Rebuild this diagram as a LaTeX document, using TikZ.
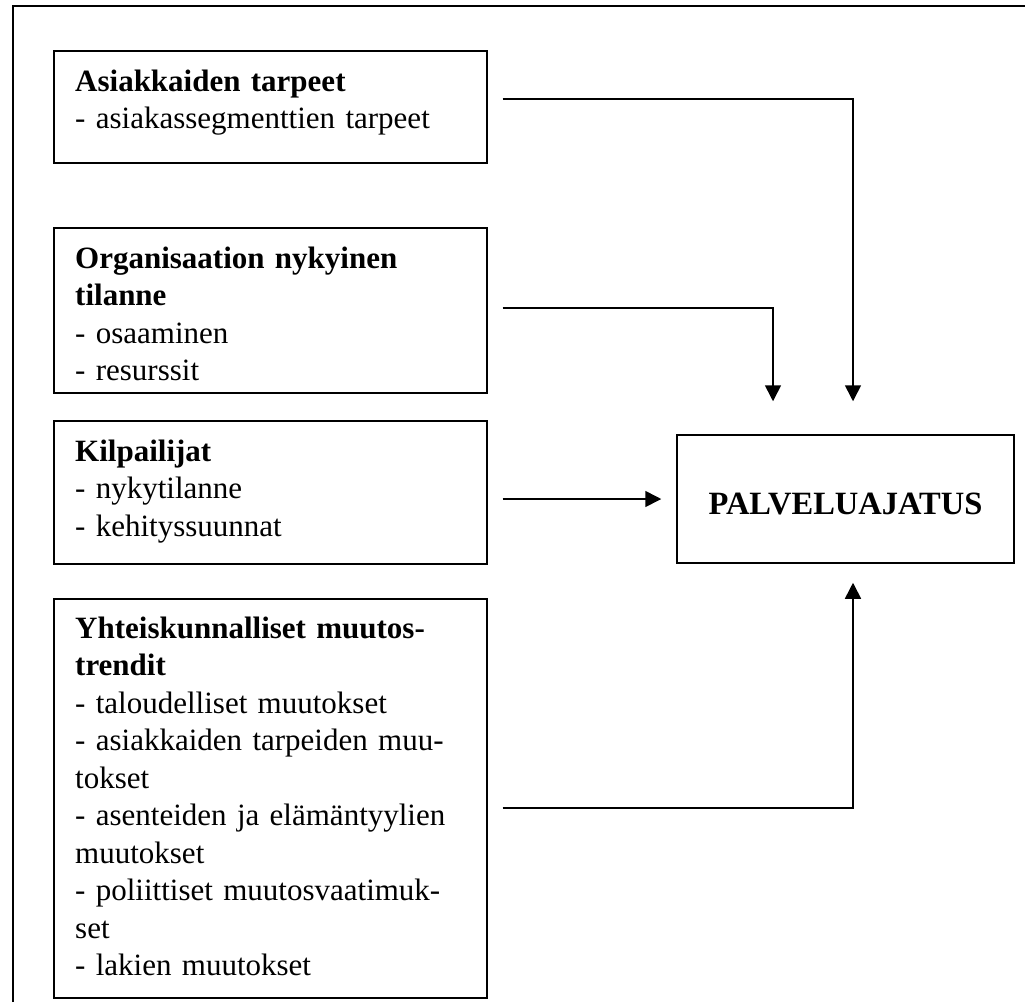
\documentclass[tikz,border=0pt]{standalone}
\usepackage{fontspec}
\setmainfont{Liberation Serif}
\usetikzlibrary{arrows.meta}

\begin{document}
\begin{tikzpicture}[x=1pt, y=-1pt,
    box/.style={draw, line width=1.5pt, inner sep=0pt},
    txt/.style={anchor=base west, inner sep=0pt, text width=400pt, align=left,
                font=\fontsize{31}{37.5}\selectfont},
    link/.style={-{Triangle[length=16pt, width=16pt]}, line width=1.6pt},
    frame/.style={line width=2pt},
  ]
  \useasboundingbox (0,0) rectangle (1025,1002);

  \def\boxw{433}  % width of the left boxes
  \def\padx{22}   % text inset from left edge
  \def\pady{41}   % top edge to first baseline

  % Outer frame (cut off at right and bottom)
  \draw[frame] (13,1002) -- (13,6) -- (1025,6);

  % --- Asiakkaiden tarpeet ---
  \node[box, anchor=north west, minimum width=\boxw, minimum height=112] (needs) at (53,50) {};
  \node[txt] (needstxt) at ([xshift=\padx pt, yshift=-\pady pt]needs.north west)
    {\textbf{Asiakkaiden tarpeet}\\
     - asiakassegmenttien tarpeet};

  % --- Organisaation nykyinen tilanne ---
  \node[box, anchor=north west, minimum width=\boxw, minimum height=165] (org) at (53,227) {};
  \node[txt] (orgtxt) at ([xshift=\padx pt, yshift=-\pady pt]org.north west)
    {\textbf{Organisaation nykyinen}\\
     \textbf{tilanne}\\
     - osaaminen\\
     - resurssit};

  % --- Kilpailijat ---
  \node[box, anchor=north west, minimum width=\boxw, minimum height=143] (rivals) at (53,420) {};
  \node[txt] (rivalstxt) at ([xshift=\padx pt, yshift=-\pady pt]rivals.north west)
    {\textbf{Kilpailijat}\\
     - nykytilanne\\
     - kehityssuunnat};

  % --- Yhteiskunnalliset muutostrendit ---
  \node[box, anchor=north west, minimum width=\boxw, minimum height=399] (trends) at (53,598) {};
  \node[txt] (trendstxt) at ([xshift=\padx pt, yshift=-40pt]trends.north west)
    {\textbf{Yhteiskunnalliset muutos-}\\
     \textbf{trendit}\\
     - taloudelliset muutokset\\
     - asiakkaiden tarpeiden muu-\\
     tokset\\
     - asenteiden ja elämäntyylien\\
     muutokset\\
     - poliittiset muutosvaatimuk-\\
     set\\
     - lakien muutokset};

  % --- Palveluajatus ---
  \node[box, minimum width=337, minimum height=128, text height=30pt, text depth=0pt,
        font=\fontsize{32.5}{37.5}\selectfont\bfseries] (idea) at (845.5,499) {PALVELUAJATUS};

  % Connectors
  \draw[link] ([xshift=15pt, yshift=8pt]needs.east) -| ([xshift=7.5pt, yshift=33pt]idea.north);
  \draw[link] ([xshift=15pt, yshift=2.5pt]org.east) -| ([xshift=-72.5pt, yshift=33pt]idea.north);
  \draw[link] ([xshift=15pt]rivals.east |- idea.west) -- ([xshift=-15pt]idea.west);
  \draw[link] ([xshift=15pt, yshift=-9.5pt]trends.east) -| ([xshift=7.5pt, yshift=-19pt]idea.south);

\end{tikzpicture}
\end{document}
